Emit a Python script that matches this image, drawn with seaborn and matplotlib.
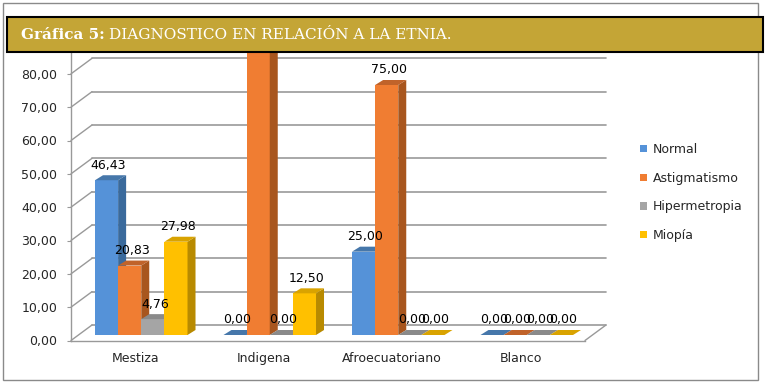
import matplotlib
matplotlib.use("Agg")
import matplotlib.pyplot as plt
import numpy as np
import pandas as pd
import seaborn as sns
from matplotlib.patches import Rectangle, Polygon
from matplotlib.transforms import Affine2D

# data
etnias = ["Mestiza", "Indigena", "Afroecuatoriano", "Blanco"]
diagnosticos = ["Normal", "Astigmatismo", "Hipermetropia", "Miopía"]
normal = [46.43, 0.00, 25.00, 0.00]
astigmatismo = [20.83, 87.50, 75.00, 0.00]
hipermetropia = [4.76, 0.00, 0.00, 0.00]
miopia = [27.98, 12.50, 0.00, 0.00]
yticks = [0, 10, 20, 30, 40, 50, 60, 70, 80]

front = ["#5592D8", "#F07D32", "#A5A5A5", "#FFC000"]
side = ["#3A6A9C", "#A8561E", "#767676", "#B88A00"]
top = ["#4677AA", "#C0632A", "#8A8A8A", "#D9A300"]

df = pd.DataFrame({
    "etnia": etnias * 4,
    "diagnostico": np.repeat(diagnosticos, 4),
    "valor": normal + astigmatismo + hipermetropia + miopia,
})

sns.set_style("white")
plt.rcParams["font.family"] = ["DejaVu Sans"]
fs = 9

W, H = 766, 387
fig = plt.figure(figsize=(W / 100, H / 100), dpi=100)
# axes placed in pixels: front axis x 71..585, y=0 at 340.5, 10 units = 33.3 px
ax = fig.add_axes([71 / W, (H - 340.5) / H, 514 / W, 300 / H])

sns.barplot(data=df, x="etnia", y="valor", hue="diagnostico", order=etnias,
            hue_order=diagnosticos, palette=front, width=0.72, ax=ax,
            legend=False, saturation=1, errorbar=None)
ax.set_xlim(-0.5, 3.5)
ax.set_ylim(0, 90)

def off(x, y, dx, dy):
    X, Y = ax.transData.transform((x, y))
    return ax.transData.inverted().transform((X + dx, Y + dy))

bar_shift = (6, 5.5)   # bars sit a little behind the front axis
depth = (8, 5)         # bar depth in pixels
back = (21, 15.5)      # back wall offset

# back wall gridlines + diagonals from the front axis
for v in yticks:
    p0 = off(-0.5, v, *back)
    p1 = off(3.5, v, *back)
    ax.plot([p0[0], p1[0]], [p0[1], p1[1]], color="#999999", lw=1.2, zorder=1, clip_on=False)
    ax.plot([-0.5, p0[0]], [v, p0[1]], color="#999999", lw=1.0, zorder=1, clip_on=False)
pr = off(3.5, 0, *back)
ax.plot([3.5, pr[0]], [0, pr[1]], color="#999999", lw=1.0, zorder=1, clip_on=False)

# 3D faces for each bar
shift_tr = ax.transData + Affine2D().translate(*bar_shift)
for k, cont in enumerate(ax.containers):
    for bar in cont.patches:
        x0 = bar.get_x()
        x1 = x0 + bar.get_width()
        h = bar.get_height()
        z = 2 + k
        bar.set_transform(shift_tr)
        bar.set_zorder(z)
        bar.set_linewidth(0)
        a = off(x1, 0, *bar_shift)
        b = off(x1, h, *bar_shift)
        c = off(x1, h, bar_shift[0] + depth[0], bar_shift[1] + depth[1])
        d = off(x1, 0, bar_shift[0] + depth[0], bar_shift[1] + depth[1])
        ax.add_patch(Polygon([a, b, c, d], closed=True, facecolor=side[k], lw=0, zorder=z))
        e = off(x0, h, *bar_shift)
        f = off(x0, h, bar_shift[0] + depth[0], bar_shift[1] + depth[1])
        ax.add_patch(Polygon([e, b, c, f], closed=True, facecolor=top[k], lw=0, zorder=z))
        if h > yticks[-1]:
            continue  # label falls behind the title bar in the reference
        lab = f"{h:.2f}".replace(".", ",")
        ax.text((x0 + x1) / 2, h, lab, ha="center", va="center", fontsize=fs,
                color="black", zorder=10,
                transform=ax.transData + Affine2D().translate(bar_shift[0] + 2, bar_shift[1] + 15))

# axes styling
ax.set_yticks(yticks)
ax.set_yticklabels([f"{v:.2f}".replace(".", ",") for v in yticks])
ax.set_xticks(range(4))
ax.set_xticklabels(etnias)
ax.set_xticks(np.arange(-0.5, 4, 1), minor=True)
ax.tick_params(axis="x", which="major", length=0, pad=8, labelsize=fs)
ax.tick_params(axis="x", which="minor", length=3, color="#999999", direction="out")
ax.tick_params(axis="y", length=3, color="#999999", pad=7, labelsize=fs, left=True)
ax.set_xlabel("")
ax.set_ylabel("")
for s in ["top", "right"]:
    ax.spines[s].set_visible(False)
for s in ["left", "bottom"]:
    ax.spines[s].set_color("#999999")
    ax.spines[s].set_linewidth(1.0)

ax.legend(handles=ax.containers, labels=diagnosticos, loc="center left",
          bbox_to_anchor=(640 / W, (H - 192.5) / H), bbox_transform=fig.transFigure,
          frameon=False, fontsize=fs, handlelength=0.55, handleheight=0.55,
          handletextpad=0.45, labelspacing=1.25, borderpad=0, borderaxespad=0)

# outer border and title bar
fig.add_artist(Rectangle((3 / W, (H - 380) / H), 755 / W, 377 / H, transform=fig.transFigure,
                         fill=False, edgecolor="#8a8a8a", lw=1.0, zorder=9))
fig.add_artist(Rectangle((7 / W, (H - 52) / H), 756 / W, 35 / H, transform=fig.transFigure,
                         facecolor="#C4A536", edgecolor="black", lw=1.5, zorder=20))
t1 = fig.text(21 / W, (H - 39) / H, "Gráfica 5:", fontsize=11, fontweight="bold",
              family="DejaVu Serif", color="white", va="baseline", zorder=21)
r = fig.canvas.get_renderer()
bb = t1.get_window_extent(r)
fig.text((bb.x1 + 4) / W, (H - 39) / H, "DIAGNOSTICO EN RELACIÓN A LA ETNIA.", fontsize=11,
         family="DejaVu Serif", color="white", va="baseline", zorder=21)

fig.savefig("out.png", dpi=100)
